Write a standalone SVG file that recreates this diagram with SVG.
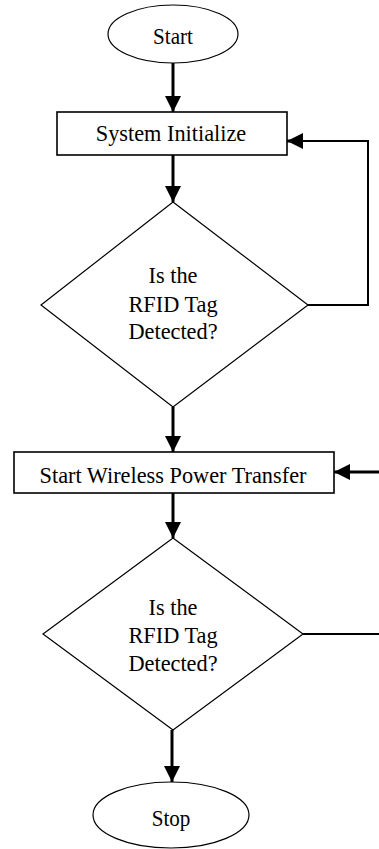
<svg xmlns="http://www.w3.org/2000/svg" width="379" height="849" viewBox="0 0 379 849">
  <style>
    .bg { fill: #ffffff; }
    .shape { fill: #ffffff; stroke: #000000; stroke-width: 1.2; }
    .box { fill: #ffffff; stroke: #000000; stroke-width: 1.6; }
    .label { font-family: "Liberation Serif", "Times New Roman", serif; font-size: 24px; fill: #000000; text-anchor: middle; }
    .flow { fill: none; stroke: #000000; stroke-width: 3; }
    .loop { fill: none; stroke: #000000; stroke-width: 2; }
  </style>
  <defs>
    <marker id="head" viewBox="0 0 16 16" refX="16" refY="8" markerWidth="16" markerHeight="16" markerUnits="userSpaceOnUse" orient="auto">
      <path d="M0,0 L16,8 L0,16 Z" fill="#000000"/>
    </marker>
  </defs>
  <rect class="bg" x="0" y="0" width="379" height="849"/>

  <g id="connectors">
    <line class="flow" x1="173" y1="63" x2="173" y2="112" marker-end="url(#head)"/>
    <line class="flow" x1="173" y1="155" x2="173" y2="202" marker-end="url(#head)"/>
    <polyline class="loop" points="308,305 368,305 368,141 300,141"/>
    <line class="flow" x1="302" y1="141" x2="287" y2="141" marker-end="url(#head)"/>
    <line class="flow" x1="173" y1="407" x2="173" y2="452" marker-end="url(#head)"/>
    <line class="flow" x1="379" y1="472" x2="334" y2="472" marker-end="url(#head)"/>
    <line class="flow" x1="173" y1="493" x2="173" y2="538" marker-end="url(#head)"/>
    <line class="loop" x1="303" y1="634" x2="379" y2="634"/>
    <line class="flow" x1="172" y1="730" x2="172" y2="782" marker-end="url(#head)"/>
  </g>

  <g id="start">
    <ellipse class="shape" cx="173" cy="34" rx="65" ry="29"/>
    <text class="label" transform="translate(173 44) scale(0.88 1)">Start</text>
  </g>

  <g id="init">
    <rect class="box" x="57" y="112" width="230" height="43"/>
    <text class="label" transform="translate(171 141) scale(0.93 1)">System Initialize</text>
  </g>

  <g id="detect1">
    <polygon class="shape" points="173,202 308,305 173,407 41,305"/>
    <text class="label" transform="translate(173 283) scale(0.93 1)">Is the</text>
    <text class="label" transform="translate(173 312) scale(0.93 1)">RFID Tag</text>
    <text class="label" transform="translate(173 339) scale(0.93 1)">Detected?</text>
  </g>

  <g id="transfer">
    <rect class="box" x="14" y="452" width="320" height="41"/>
    <text class="label" transform="translate(173 483) scale(0.93 1)">Start Wireless Power Transfer</text>
  </g>

  <g id="detect2">
    <polygon class="shape" points="173,538 303,634 173,730 43,634"/>
    <text class="label" transform="translate(173 615) scale(0.93 1)">Is the</text>
    <text class="label" transform="translate(173 643) scale(0.93 1)">RFID Tag</text>
    <text class="label" transform="translate(173 671) scale(0.93 1)">Detected?</text>
  </g>

  <g id="stop">
    <ellipse class="shape" cx="171" cy="815" rx="78" ry="33"/>
    <text class="label" transform="translate(171 826) scale(0.88 1)">Stop</text>
  </g>
</svg>
